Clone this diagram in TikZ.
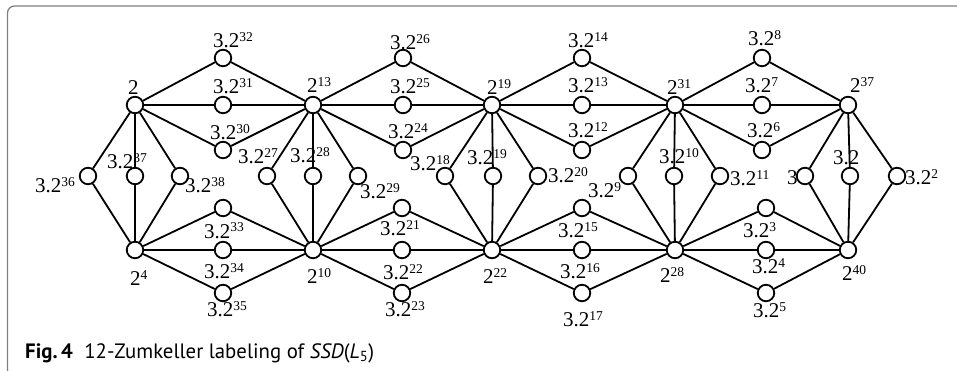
\documentclass[tikz,border=0pt]{standalone}
\usepackage{fontspec}
\setmainfont{Liberation Serif}
\newfontfamily\capfont{PT Sans}
% base text with a superscript that hangs to the right without widening the box
\newcommand\pw[2]{#1\rlap{\raisebox{6pt}{\fontsize{13.5}{13.5}\selectfont #2}}}
\begin{document}
\begin{tikzpicture}[x=1pt,y=-1pt,
  v/.style={circle,draw,line width=1.8pt,fill=white,minimum size=16.5pt,inner sep=0pt},
  e/.style={line width=1.8pt},
  lab/.style={anchor=base west,inner sep=0pt,font=\fontsize{21}{21}\selectfont}]
\useasboundingbox (0,0) rectangle (957,371);
% frame
\begin{scope}
  \clip (0,0) rectangle (957,371);
  \draw[black!50,line width=1.3pt,rounded corners=7pt] (7.5,6) rectangle (1000,377);
\end{scope}

% hubs, upper and lower row
\foreach \i/\x in {1/135,2/313,3/492,4/675,5/848}{
  \node[v] (t\i) at (\x,105) {};
  \node[v] (b\i) at (\x,250) {};
}
% diamonds between consecutive hubs
\foreach \i/\x/\y in {1/223/223,2/403/402,3/582/582,4/762/766}{
  \node[v] (tu\i) at (\x,58) {};
  \node[v] (tm\i) at (\x,105) {};
  \node[v] (tl\i) at (\x,150) {};
  \node[v] (bu\i) at (\y,208) {};
  \node[v] (bm\i) at (\y,250) {};
  \node[v] (bl\i) at (\y,293) {};
}
% columns joining upper and lower hubs
\foreach \i/\a/\b/\c in {1/88/135/180,2/267/313/358,3/445/493/538,4/628/674/720,5/805/850/897}{
  \node[v] (ca\i) at (\a,176) {};
  \node[v] (cb\i) at (\b,176) {};
  \node[v] (cc\i) at (\c,176) {};
}

% edges
\foreach \i [evaluate=\i as \j using int(\i+1)] in {1,...,4}{
  \foreach \n in {u,m,l}{
    \draw[e] (t\i) -- (t\n\i) -- (t\j);
    \draw[e] (b\i) -- (b\n\i) -- (b\j);
  }
}
\foreach \i in {1,...,5}{
  \foreach \n in {a,b,c}{
    \draw[e] (t\i) -- (c\n\i) -- (b\i);
  }
}

% labels, upper part
\node[lab] (Lt1) at (128,95) {2};
\node[lab] (Ltu1) at (213,48) {\pw{3.2}{32}};
\node[lab] (Ltm1) at (213,94) {\pw{3.2}{31}};
\node[lab] (Ltl1) at (210,140) {\pw{3.2}{30}};
\node[lab] (Lt2) at (307,93) {\pw{2}{13}};
\node[lab] (Ltu2) at (390,50) {\pw{3.2}{26}};
\node[lab] (Ltm2) at (390,94) {\pw{3.2}{25}};
\node[lab] (Ltl2) at (388,139) {\pw{3.2}{24}};
\node[lab] (Lt3) at (487,95) {\pw{2}{19}};
\node[lab] (Ltu3) at (568,48) {\pw{3.2}{14}};
\node[lab] (Ltm3) at (568,93) {\pw{3.2}{13}};
\node[lab] (Ltl3) at (568,138) {\pw{3.2}{12}};
\node[lab] (Lt4) at (667,95) {\pw{2}{31}};
\node[lab] (Ltu4) at (748,46) {\pw{3.2}{8}};
\node[lab] (Ltm4) at (745,93) {\pw{3.2}{7}};
\node[lab] (Ltl4) at (747,138) {\pw{3.2}{6}};
\node[lab] (Lt5) at (850,93) {\pw{2}{37}};

% labels, columns
\node[lab] (Lca1) at (35,193) {\pw{3.2}{36}};
\node[lab] (Lcb1) at (107,169) {\pw{3.2}{37}};
\node[lab] (Lcc1) at (185,193) {\pw{3.2}{38}};
\node[lab] (Lca2) at (238,164) {\pw{3.2}{27}};
\node[lab] (Lcb2) at (290,163) {\pw{3.2}{28}};
\node[lab] (Lcc2) at (360,199) {\pw{3.2}{29}};
\node[lab] (Lca3) at (410,171) {\pw{3.2}{18}};
\node[lab] (Lcb3) at (467,165) {\pw{3.2}{19}};
\node[lab] (Lcc3) at (548,183) {\pw{3.2}{20}};
\node[lab] (Lca4) at (588,198) {\pw{3.2}{9}};
\node[lab] (Lcb4) at (659,164) {\pw{3.2}{10}};
\node[lab] (Lcc4) at (730,186) {\pw{3.2}{11}};
\node[lab] (Lca5) at (787,185) {3};
\node[lab] (Lcb5) at (833,165) {3.2};
\node[lab] (Lcc5) at (905,185) {\pw{3.2}{2}};

% labels, lower part
\node[lab] (Lbu1) at (204,238) {\pw{3.2}{33}};
\node[lab] (Lbm1) at (204,278) {\pw{3.2}{34}};
\node[lab] (Lbl1) at (207,316) {\pw{3.2}{35}};
\node[lab] (Lb1) at (130,285) {\pw{2}{4}};
\node[lab] (Lb2) at (307,283) {\pw{2}{10}};
\node[lab] (Lbu2) at (380,236) {\pw{3.2}{21}};
\node[lab] (Lbm2) at (383,279) {\pw{3.2}{22}};
\node[lab] (Lbl2) at (385,316) {\pw{3.2}{23}};
\node[lab] (Lb3) at (483,283) {\pw{2}{22}};
\node[lab] (Lbu3) at (558,237) {\pw{3.2}{15}};
\node[lab] (Lbm3) at (560,278) {\pw{3.2}{16}};
\node[lab] (Lbl3) at (563,326) {\pw{3.2}{17}};
\node[lab] (Lb4) at (660,282) {\pw{2}{28}};
\node[lab] (Lbu4) at (743,237) {\pw{3.2}{3}};
\node[lab] (Lbm4) at (752,273) {\pw{3.2}{4}};
\node[lab] (Lbl4) at (753,317) {\pw{3.2}{5}};
\node[lab] (Lb5) at (842,280) {\pw{2}{40}};

% caption
\node[anchor=base west,inner sep=0pt,font=\capfont\fontsize{20.8}{21}\selectfont] (cap) at (25,358)
  {\textbf{Fig.\,4}\hspace{0.55em}12-Zumkeller labeling of \textit{SSD}(\textit{L}\textsubscript{5})};
\end{tikzpicture}
\end{document}
